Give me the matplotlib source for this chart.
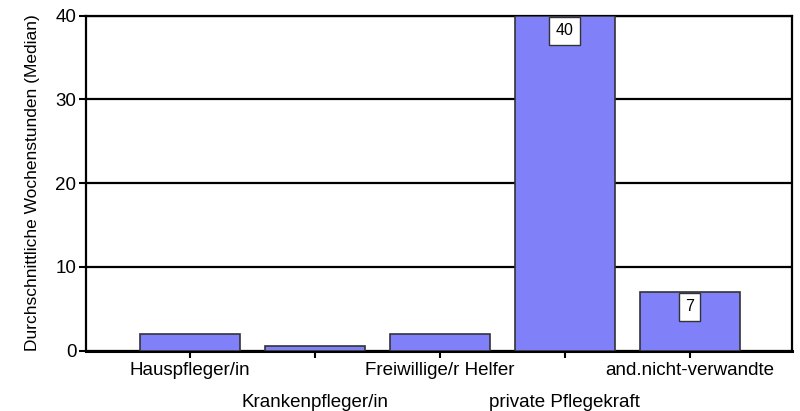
import numpy as np
import matplotlib.pyplot as plt

# data
categories = ["Hauspfleger/in", "Krankenpfleger/in", "Freiwillige/r Helfer",
              "private Pflegekraft", "and.nicht-verwandte"]
hours = [2, 0.5, 2, 40, 7]
labelled = [False, False, False, True, True]

plt.rcParams["font.family"] = ["Liberation Sans", "DejaVu Sans"]

fig = plt.figure(figsize=(8, 4.11), dpi=100)
ax = fig.add_axes([0.1075, 0.147, 0.8825, 0.815])

ind = np.arange(len(categories))
bars = ax.bar(ind, hours, 0.8, color="#8080f8", edgecolor="#333333", linewidth=1.2, zorder=3)

# value boxes inside the top of the bar
for i in range(len(hours)):
    if labelled[i]:
        ax.annotate(str(hours[i]), xy=(ind[i], hours[i]), xytext=(0, -15),
                    textcoords="offset pixels",
                    ha="center", va="center", fontsize=11.5, zorder=5,
                    bbox=dict(boxstyle="square,pad=0.4", fc="white", ec="#333333", lw=1))

ax.set_xlim(-0.83, 4.82)
ax.set_ylim(0, 40)
ax.set_yticks([0, 10, 20, 30, 40])
ax.set_yticklabels(["0", "10", "20", "30", "40"], fontsize=13.5)
ax.yaxis.grid(True, color="black", linewidth=1.6, zorder=1)
ax.tick_params(axis="y", length=5, width=1.5, pad=2)

# alternate the category labels on two rows (major = top row, minor = bottom row)
ax.set_xticks(ind[0::2])
ax.set_xticklabels(categories[0::2], fontsize=13.5)
ax.set_xticks(ind[1::2], minor=True)
ax.set_xticklabels(categories[1::2], minor=True, fontsize=13.5)
ax.tick_params(axis="x", which="major", length=5, width=1.5, pad=3)
ax.tick_params(axis="x", which="minor", length=5, width=1.5, pad=26)

for s in ["left", "right", "top"]:
    ax.spines[s].set_linewidth(1.6)
ax.spines["bottom"].set_linewidth(2.2)

ax.set_ylabel("Durchschnittliche Wochenstunden (Median)", fontsize=12.5, labelpad=11)

plt.savefig("out.png", dpi=100)
